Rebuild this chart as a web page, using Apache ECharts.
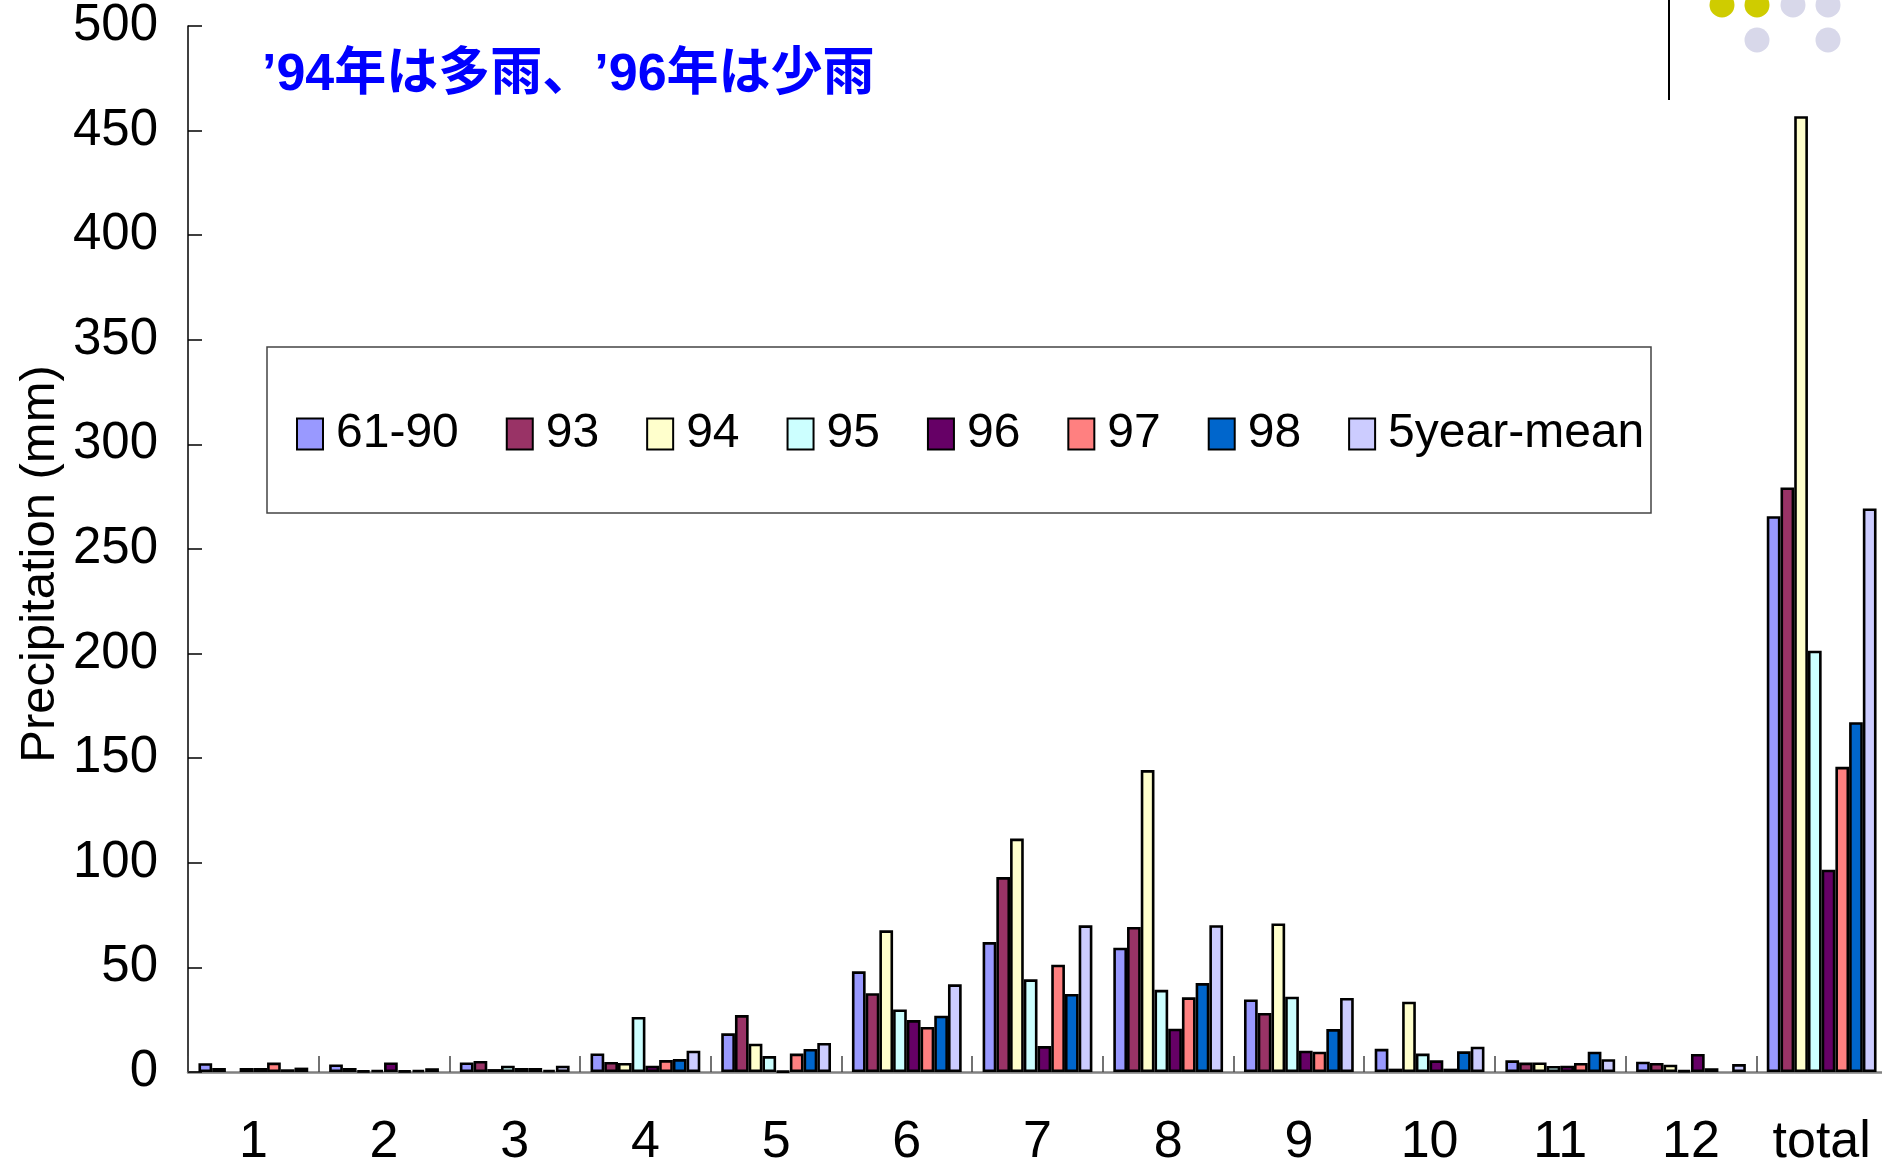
<!DOCTYPE html>
<html>
<head>
<meta charset="utf-8">
<script src="https://cdn.jsdelivr.net/npm/echarts@6/dist/echarts.min.js"></script>
<style>
  html, body { margin: 0; padding: 0; background: #ffffff; }
  #chart { width: 1882px; height: 1163px; }
</style>
</head>
<body>
<div id="chart"></div>
<script>
// ---- data (mm) ----
const categories = ['1', '2', '3', '4', '5', '6', '7', '8', '9', '10', '11', '12', 'total'];
const seriesNames = ['61-90', '93', '94', '95', '96', '97', '98', '5year-mean'];
const s6190 = [4.2, 3.6, 4.6, 8.9, 18.5, 48.1, 62.1, 59.4, 34.7, 11.1, 5.6, 4.9, 265.7];
const s93   = [1.9, 1.9, 5.3, 4.8, 27.2, 37.7, 93.2, 69.3, 28.2, 1.6, 4.5, 4.3, 279.4];
const s94   = [null, 0.6, 1.4, 4.3, 13.5, 67.7, 111.6, 144.3, 71.0, 33.6, 4.6, 3.5, 456.9];
const s95   = [1.9, 1.0, 3.0, 26.3, 7.6, 29.9, 44.3, 39.3, 36.0, 8.8, 2.9, 0.8, 201.4];
const s96   = [1.9, 4.6, 1.9, 3.0, 0.4, 24.8, 12.4, 20.7, 10.2, 5.6, 3.0, 8.6, 96.7];
const s97   = [4.5, 0.6, 1.9, 5.7, 8.8, 21.5, 51.3, 35.7, 9.7, 1.6, 4.3, 1.8, 145.9];
const s98   = [1.3, 1.0, 1.0, 6.2, 11.0, 26.9, 37.3, 42.5, 20.5, 9.9, 9.7, null, 167.2];
const s5ym  = [2.1, 1.8, 3.0, 10.2, 13.9, 41.9, 70.1, 70.2, 35.4, 12.1, 6.1, 3.8, 269.4];
const yTicks = [0, 50, 100, 150, 200, 250, 300, 350, 400, 450, 500];
const titleText = '’94年は多雨、’96年は少雨';
const yAxisTitle = 'Precipitation (mm)';

// ---- styles ----
const colors = ['#9999FF', '#993366', '#FFFFCC', '#CCFFFF', '#660066', '#FF8080', '#0066CC', '#CCCCFF'];
const allValues = [s6190, s93, s94, s95, s96, s97, s98, s5ym];
const FONT = '"Liberation Sans", Arial, sans-serif';

const chart = echarts.init(document.getElementById('chart'), null, { renderer: 'canvas' });

const series = seriesNames.map((name, i) => ({
  name: name,
  type: 'bar',
  data: allValues[i],
  barGap: '0%',
  barCategoryGap: '16%',
  itemStyle: { color: colors[i], borderColor: '#000000', borderWidth: 2.6 },
  emphasis: { disabled: true }
}));

chart.setOption({
  animation: false,
  backgroundColor: '#ffffff',
  title: {
    text: titleText,
    left: 262,
    top: 50,
    padding: 0,
    textStyle: { color: '#0000FF', fontSize: 52, fontWeight: 'bold', fontFamily: '"Liberation Sans", "Noto Sans CJK JP", sans-serif' }
  },
  grid: { left: 188, top: 26, width: 1699, height: 1046, containLabel: false, outerBoundsMode: 'none' },
  legend: {
    data: seriesNames,
    left: 296,
    top: 410,
    padding: 0,
    z: 10,
    itemWidth: 26,
    itemHeight: 31,
    itemGap: 47,
    icon: 'rect',
    textStyle: { fontSize: 48, color: '#000', fontFamily: FONT, padding: [0, 0, 0, 8] }
  },
  xAxis: {
    type: 'category',
    data: categories,
    axisLine: { show: true, lineStyle: { color: '#808080', width: 2.5 } },
    axisTick: { show: true, inside: true, length: 16, lineStyle: { color: '#444444', width: 1.5 } },
    axisLabel: { fontSize: 52, color: '#000', fontFamily: FONT, margin: 45, interval: 0 },
    splitLine: { show: false }
  },
  yAxis: {
    type: 'value',
    min: yTicks[0],
    max: yTicks[yTicks.length - 1],
    interval: 50,
    name: yAxisTitle,
    nameLocation: 'middle',
    nameRotate: 90,
    nameGap: 123,
    nameMoveOverlap: false,
    nameTextStyle: { fontSize: 49, color: '#000', fontFamily: FONT, padding: [0, 30, 0, 0] },
    axisLine: { show: true, lineStyle: { color: '#000', width: 1.5 } },
    axisTick: { show: true, inside: true, length: 14, lineStyle: { color: '#000', width: 1.5 } },
    axisLabel: { fontSize: 51, color: '#000', fontFamily: FONT, margin: 30 },
    splitLine: { show: false }
  },
  graphic: [
    { type: 'rect', z: 1, shape: { x: 267, y: 347, width: 1384, height: 166 },
      style: { fill: '#ffffff', stroke: '#444444', lineWidth: 1.5 } },
    { type: 'line', z: 1, shape: { x1: 1669, y1: 0, x2: 1669, y2: 100 },
      style: { stroke: '#000000', lineWidth: 2 } },
    { type: 'circle', z: 1, shape: { cx: 1722, cy: 5, r: 12.5 }, style: { fill: '#CFCC00' } },
    { type: 'circle', z: 1, shape: { cx: 1757, cy: 5, r: 12.5 }, style: { fill: '#CFCC00' } },
    { type: 'circle', z: 1, shape: { cx: 1793, cy: 5, r: 12.5 }, style: { fill: '#D8D8EA' } },
    { type: 'circle', z: 1, shape: { cx: 1828, cy: 5, r: 12.5 }, style: { fill: '#D8D8EA' } },
    { type: 'circle', z: 1, shape: { cx: 1757, cy: 40, r: 12.5 }, style: { fill: '#D8D8EA' } },
    { type: 'circle', z: 1, shape: { cx: 1828, cy: 40, r: 12.5 }, style: { fill: '#D8D8EA' } }
  ],
  series: series
});
</script>
</body>
</html>
